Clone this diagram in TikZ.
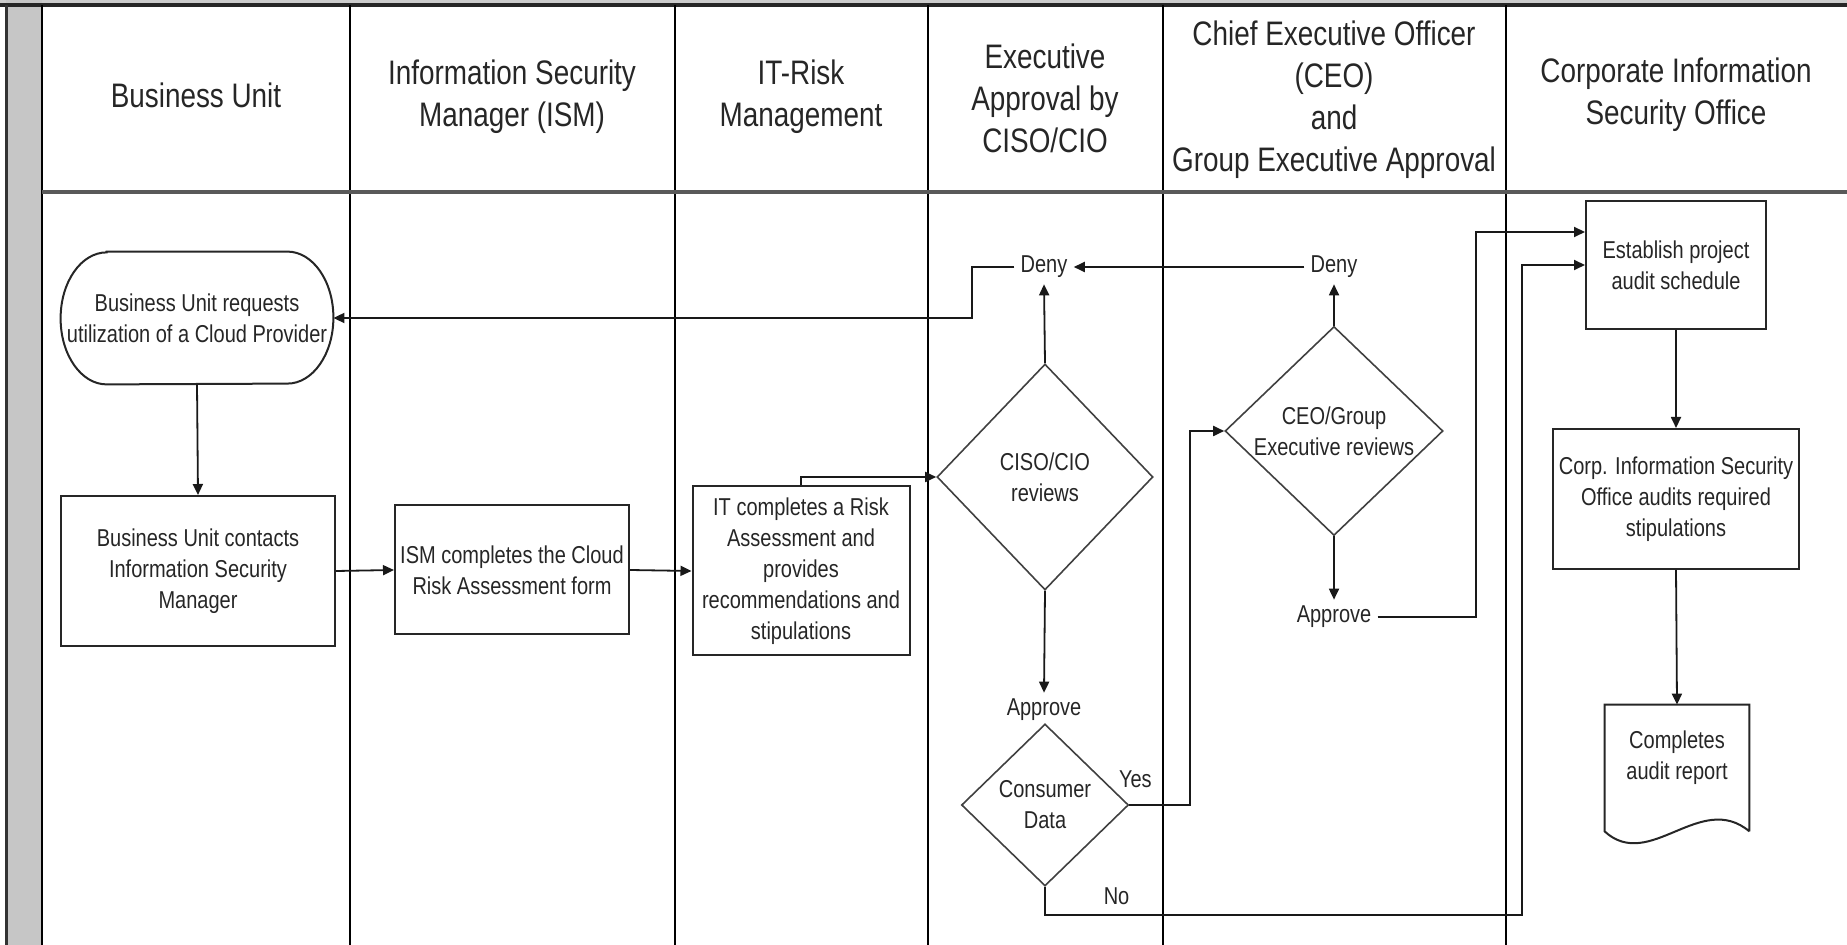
\documentclass[tikz,border=0pt]{standalone}
\usepackage{fontspec}
\setmainfont{Liberation Sans}[FakeStretch=0.82]
\usetikzlibrary{arrows.meta,shapes.geometric,calc}

\begin{document}
\begin{tikzpicture}[x=0.5pt,y=-0.5pt,
  font=\fontsize{12.2}{15.5}\selectfont,
  every node/.style={text=black!85},
  lane/.style={line width=0.7pt,black},
  head/.style={font=\fontsize{17}{21}\selectfont,align=center},
  box/.style={draw=black!85,line width=1pt,align=center,inner sep=0pt},
  decision/.style={diamond,draw=black!75,line width=0.8pt,align=center,inner sep=0pt},
  lbl/.style={inner sep=3pt},
  link/.style={line width=0.9pt,black!90},
  flow/.style={link,-{Triangle[length=5.5pt,width=5pt]}}]
\useasboundingbox (0,0) rectangle (1847,945);
% lanes
\fill[gray!40] (0,0) rectangle (1847,3);
\fill[gray!45] (6,0) rectangle (42,945);
\draw[line width=2.3pt,black!85] (0,5) -- (1847,5);
\draw[line width=1.5pt,black!80] (6,5) -- (6,945);
\draw[line width=1pt] (42,5) -- (42,945);
\foreach \x in {350,675,928,1163,1506}
  \draw[lane] (\x,5) -- (\x,945);
\draw[line width=2pt,black!65] (42,192) -- (1847,192);

\node[head] (hbu) at (196,95) {Business Unit};
\node[head] (hism) at (512,97) {Information Security\\Manager (ISM)};
\node[head] (hit) at (801,97) {IT-Risk\\Management};
\node[head] (hexec) at (1045,98) {Executive\\Approval by\\CISO/CIO};
\node[head] (hceo) at (1334,100) {Chief Executive Officer\\(CEO)\\and\\Group Executive Approval};
\node[head] (hcorp) at (1676,95) {Corporate Information\\Security Office};

% steps
\node[align=center,inner sep=0pt,minimum width=136pt,minimum height=66pt] (req) at (197,318)
  {Business Unit requests\\utilization of a Cloud Provider};
\draw[draw=black!85,line width=1pt] ([xshift=23pt]req.north west) -- ([xshift=-23pt]req.north east)
  arc[start angle=90,end angle=-90,x radius=23pt,y radius=33pt]
  -- ([xshift=23pt]req.south west)
  arc[start angle=270,end angle=90,x radius=23pt,y radius=33pt] -- cycle;
\node[box,minimum width=137pt,minimum height=75pt] (contact) at (198,571)
  {Business Unit contacts\\Information Security\\Manager};
\node[box,minimum width=117pt,minimum height=64.5pt] (ism) at (512,570)
  {ISM completes the Cloud\\Risk Assessment form};
\node[box,minimum width=108.5pt,minimum height=84.5pt] (it) at (801,571)
  {IT completes a Risk\\Assessment and\\provides\\recommendations and\\stipulations};
\node[decision,minimum width=108pt,minimum height=113pt] (ciso) at (1045,477) {CISO/CIO\\reviews};
\node[lbl] (deny4) at (1044,267) {Deny};
\node[lbl] (approve4) at (1044,710) {Approve};
\node[decision,minimum width=83.5pt,minimum height=81pt] (cons) at (1045,805) {Consumer\\Data};
\node[decision,minimum width=109pt,minimum height=104.5pt] (ceo) at (1334,431) {CEO/Group\\Executive reviews};
\node[lbl] (deny5) at (1334,267) {Deny};
\node[lbl] (approve5) at (1334,617) {Approve};
\node[box,minimum width=90pt,minimum height=64pt] (est) at (1676,265)
  {Establish project\\audit schedule};
\node[box,minimum width=123pt,minimum height=70pt] (corp) at (1676,499)
  {Corp. Information Security\\Office audits required\\stipulations};
\node[align=center,inner sep=0pt,minimum width=72pt,minimum height=53pt] (doc) at (1677,758)
  {Completes\\audit report};
\draw[draw=black!85,line width=1pt] ($(doc.south east)+(0,20)$) -- (doc.north east) -- (doc.north west)
  -- ($(doc.south west)+(0,20)$)
  .. controls ($(doc.south west)+(45,61)$) and ($(doc.south east)+(-49,-21)$) .. ($(doc.south east)+(0,20)$);

% connectors
\draw[flow] (req.south) -- (contact.north);
\draw[flow] (contact.east) -- (ism.west);
\draw[flow] (ism.east) -- (it.west);
\draw[flow] (it.north) |- (ciso.west);
\draw[flow] (ciso.north) -- (deny4.south);
\draw[flow] (deny5.west) -- (deny4.east);
\draw[flow] (deny4.west) -- ++(-42,0) |- (req.east);
\draw[flow] (ciso.south) -- (approve4.north);
\draw[flow] (ceo.north) -- (deny5.south);
\draw[flow] (ceo.south) -- (approve5.north);
\draw[flow] (approve5.east) -- ++(98,0) |- ([yshift=16.5pt]est.west);
\draw[flow] (cons.east) -- ++(61,0) node[lbl,pos=0.1,above=5pt] {Yes} |- (ceo.west);
\draw[flow] (cons.south) -- ++(0,28) -- ++(477,0) node[lbl,pos=0.15,above=1.5pt] {No} |- (est.west);
\draw[flow] (est.south) -- (corp.north);
\draw[flow] (corp.south) -- (doc.north);
\end{tikzpicture}
\end{document}
